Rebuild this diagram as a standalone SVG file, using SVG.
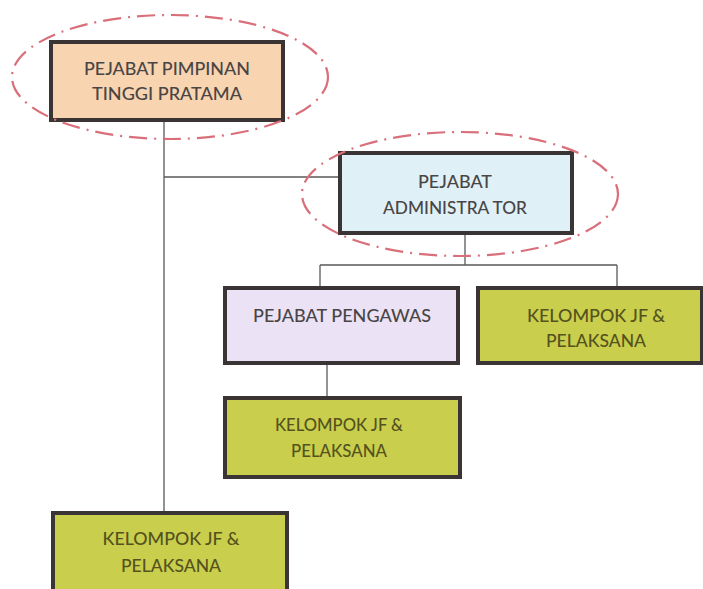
<svg xmlns="http://www.w3.org/2000/svg" width="703" height="589" viewBox="0 0 703 589">
<style>
.box{stroke:#3a3434;stroke-width:4}
.t{font-family:Lato,"Open Sans","Liberation Sans",sans-serif;font-size:17px;font-weight:500;fill:#4a4545;text-anchor:middle}
.tg{fill:#55521f}
.conn{stroke:#5a5a5a;stroke-width:1.3;fill:none}
.ell{fill:none;stroke:#d96f7a;stroke-width:2.2;stroke-dasharray:18 7 2 7}
</style>
<rect width="703" height="589" fill="#ffffff"/>
<g id="connectors">
<path class="conn" d="M164 120V513M164 177H340"/>
<path class="conn" d="M465 233V265M320 265H617M320 265V288M617 265V288"/>
<path class="conn" d="M327 363V398"/>
</g>
<g id="pimpinan">
<rect class="box" x="51" y="42" width="232" height="78" fill="#f8d4b0"/>
<text class="t" x="167" y="75" textLength="166" lengthAdjust="spacingAndGlyphs">PEJABAT PIMPINAN</text>
<text class="t" x="167" y="100" textLength="150" lengthAdjust="spacingAndGlyphs">TINGGI PRATAMA</text>
</g>
<g id="administrator">
<rect class="box" x="340" y="153" width="232" height="80" fill="#dff1f7"/>
<text class="t" x="455" y="188" textLength="74" lengthAdjust="spacingAndGlyphs">PEJABAT</text>
<text class="t" x="455" y="214" textLength="144" lengthAdjust="spacingAndGlyphs">ADMINISTRA TOR</text>
</g>
<g id="pengawas">
<rect class="box" x="225" y="288" width="233" height="75" fill="#ebe3f5"/>
<text class="t" x="342" y="322" textLength="178" lengthAdjust="spacingAndGlyphs">PEJABAT PENGAWAS</text>
</g>
<g id="kelompok1">
<rect class="box" x="478" y="288" width="224" height="75" fill="#c9cf4c"/>
<text class="t tg" x="596" y="322" textLength="138" lengthAdjust="spacingAndGlyphs">KELOMPOK JF &amp;</text>
<text class="t tg" x="596" y="347" textLength="100" lengthAdjust="spacingAndGlyphs">PELAKSANA</text>
</g>
<g id="kelompok2">
<rect class="box" x="225" y="398" width="235" height="79" fill="#c9cf4c"/>
<text class="t tg" x="339" y="431" textLength="128" lengthAdjust="spacingAndGlyphs">KELOMPOK JF &amp;</text>
<text class="t tg" x="339" y="457" textLength="96" lengthAdjust="spacingAndGlyphs">PELAKSANA</text>
</g>
<g id="kelompok3">
<rect class="box" x="53" y="513" width="234" height="90" fill="#c9cf4c"/>
<text class="t tg" x="171" y="545" textLength="137" lengthAdjust="spacingAndGlyphs">KELOMPOK JF &amp;</text>
<text class="t tg" x="171" y="572" textLength="100" lengthAdjust="spacingAndGlyphs">PELAKSANA</text>
</g>
<g id="highlights">
<ellipse class="ell" cx="170" cy="77" rx="158" ry="62"/>
<ellipse class="ell" cx="460" cy="194" rx="158" ry="62"/>
</g>
</svg>
